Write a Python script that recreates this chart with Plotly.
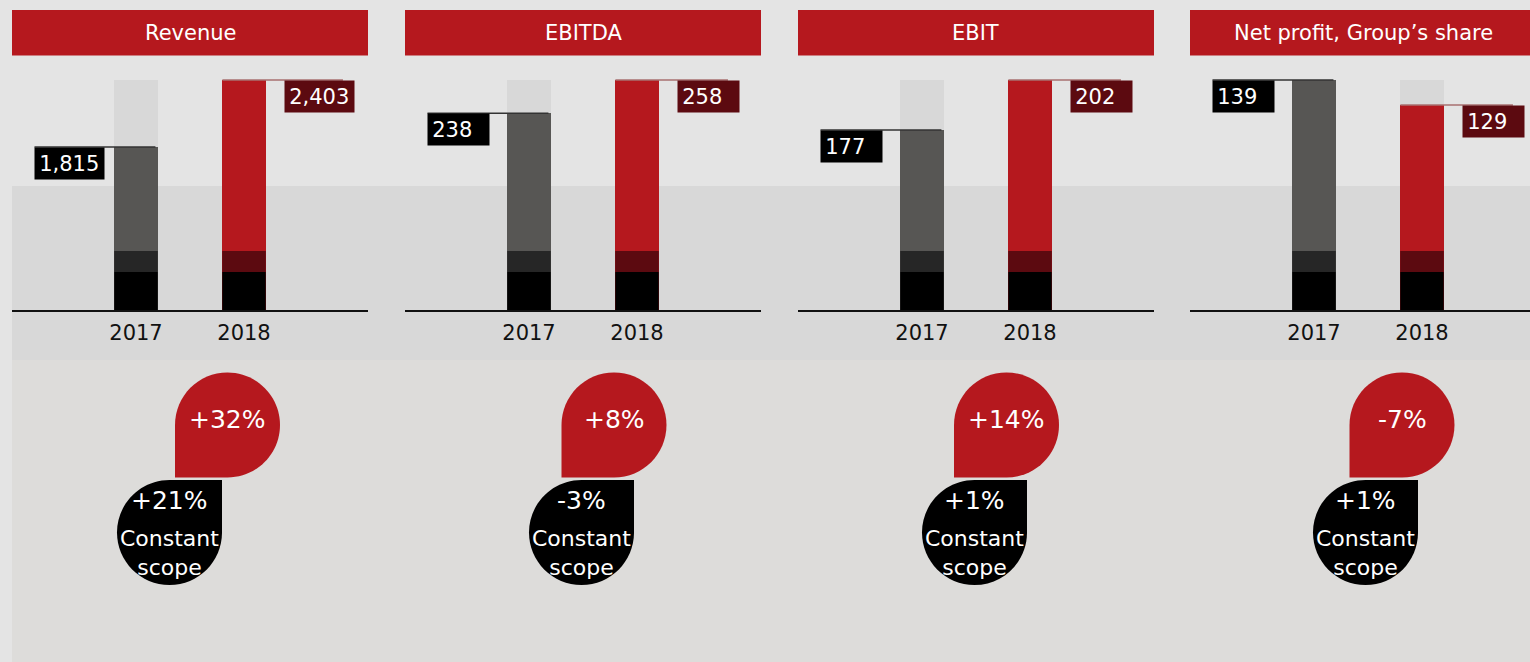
import plotly.graph_objects as go

# ---------------- data ----------------
metrics = ["Revenue", "EBITDA", "EBIT", "Net profit, Group\u2019s share"]
years = ["2017", "2018"]
values_2017 = [1815, 238, 177, 139]
values_2018 = [2403, 258, 202, 129]
growth_reported = ["+32%", "+8%", "+14%", "-7%"]
growth_constant = ["+21%", "-3%", "+1%", "+1%"]
constant_label = "Constant<br>scope"

# ---------------- layout constants ----------------
W, H = 1530, 662
FONT = "DejaVu Sans"
RED = "#b5181e"
DARKRED = "#5c0a10"
GREY_BAR = "#575654"
DARK_SEG = "#262626"
panel_left = [12, 405, 798, 1190]
panel_w = 356
unit = 108.0          # px between the two bars
c_off = 124.0         # px from panel left to first bar centre
bar_w = 0.403
y_bot, y_top = 310, 76
axis_floor = [384, 120, 87, 47]   # visual floor of each panel's value axis
red_cx = [227.5, 614, 1006.5, 1402]
blk_cx = [169.5, 581.5, 974.5, 1365.5]
red_cy, blk_cy, R = 425, 532.5, 52.5


def px(x):
    return x / W


def py(y):
    return 1 - y / H


fig = go.Figure()
shapes = []
annotations = []

# background areas
shapes.append(dict(type="rect", xref="paper", yref="paper", x0=px(12), x1=1,
                   y0=py(360), y1=py(186), fillcolor="#d8d8d8", line_width=0, layer="below"))
shapes.append(dict(type="rect", xref="paper", yref="paper", x0=px(12), x1=1,
                   y0=0, y1=py(360), fillcolor="#dddcda", line_width=0, layer="below"))

layout_axes = {}
for i, name in enumerate(metrics):
    n = i + 1
    xa = "x" if n == 1 else f"x{n}"
    ya = "y" if n == 1 else f"y{n}"
    L = panel_left[i]
    Rr = min(L + panel_w, W)
    v17, v18 = values_2017[i], values_2018[i]
    vmax = max(v17, v18)
    b = axis_floor[i]
    t = b + (vmax - b) * (y_bot - y_top) / (y_bot - 80)

    # header
    shapes.append(dict(type="rect", xref="paper", yref="paper", x0=px(L), x1=px(Rr),
                       y0=py(55.5), y1=py(10), fillcolor=RED, line_width=0))
    annotations.append(dict(xref="paper", yref="paper", x=px((L + min(L + panel_w, W + 6)) / 2),
                            y=py(33), text=name, showarrow=False,
                            font=dict(family=FONT, size=21, color="white"),
                            xanchor="center", yanchor="middle"))

    # background (max) bars
    fig.add_trace(go.Bar(x=[0, 1], y=[vmax, vmax], width=bar_w, marker_color="#d8d8d8",
                         marker_line_width=0, xaxis=xa, yaxis=ya, hoverinfo="skip",
                         showlegend=False))
    # value bars
    fig.add_trace(go.Bar(x=[0, 1], y=[v17, v18], width=bar_w,
                         marker_color=[GREY_BAR, RED], marker_line_width=0,
                         xaxis=xa, yaxis=ya, showlegend=False,
                         hovertemplate="%{y:,}<extra></extra>"))

    x0r = -c_off / unit
    x1r = (Rr - L - c_off) / unit
    layout_axes["xaxis" if n == 1 else f"xaxis{n}"] = dict(
        domain=[px(L), px(Rr)], range=[x0r, x1r], tickvals=[0, 1], ticktext=years,
        showgrid=False, zeroline=False, showline=True, linecolor="#111", linewidth=2,
        ticks="outside", ticklen=3, tickcolor="rgba(0,0,0,0)",
        tickfont=dict(family=FONT, size=21, color="#111"), fixedrange=True,
        anchor=ya)
    layout_axes["yaxis" if n == 1 else f"yaxis{n}"] = dict(
        domain=[py(y_bot), py(y_top)], range=[b, t], visible=False, showgrid=False,
        zeroline=False, fixedrange=True, anchor=xa)

    # bottom stacked segments (decorative)
    seg1 = (y_bot - 272) / (y_bot - y_top)
    seg2 = (y_bot - 251) / (y_bot - y_top)
    for xc, dark in ((0, DARK_SEG), (1, DARKRED)):
        shapes.append(dict(type="rect", xref=xa, yref=f"{ya} domain", x0=xc - bar_w / 2,
                           x1=xc + bar_w / 2, y0=0, y1=seg1, fillcolor="black", line_width=0))
        shapes.append(dict(type="rect", xref=xa, yref=f"{ya} domain", x0=xc - bar_w / 2,
                           x1=xc + bar_w / 2, y0=seg1, y1=seg2, fillcolor=dark, line_width=0))

    # value labels
    for xc, v, bg, lx, lcol in ((0, v17, "black", -0.94, "#333333"),
                                (1, v18, DARKRED, 1.37, "#a87070")):
        txt = f"{v:,}"
        wpx = 69 if len(txt) > 3 else 61
        annotations.append(dict(xref=xa, yref=ya, x=lx, y=v, text="\u2009" + txt,
                                showarrow=False, xanchor="left", yanchor="top",
                                width=wpx, height=31, align="left", valign="middle",
                                bgcolor=bg, borderpad=0,
                                font=dict(family=FONT, size=21, color="white")))
        if xc == 0:
            lx0, lx1 = lx, 0.18
        else:
            lx0, lx1 = 1 - 0.2, lx + (wpx - 10) / unit
        shapes.append(dict(type="line", xref=xa, yref=ya, x0=lx0, x1=lx1, y0=v, y1=v,
                           line=dict(color=lcol, width=1.5)))

    # growth bubbles
    k = 0.5523 * R
    cx, cy = red_cx[i], red_cy
    pts = [
        ("M", (cx, cy - R)),
        ("C", (cx + k, cy - R), (cx + R, cy - k), (cx + R, cy)),
        ("C", (cx + R, cy + k), (cx + k, cy + R), (cx, cy + R)),
        ("L", (cx - R, cy + R)),
        ("L", (cx - R, cy)),
        ("C", (cx - R, cy - k), (cx - k, cy - R), (cx, cy - R)),
    ]

    def to_path(p):
        s = ""
        for seg in p:
            s += seg[0] + " " + " ".join(f"{px(a):.5f},{py(c):.5f}" for a, c in seg[1:]) + " "
        return s + "Z"

    shapes.append(dict(type="path", xref="paper", yref="paper", path=to_path(pts),
                       fillcolor=RED, line_width=0))
    cx, cy = blk_cx[i], blk_cy
    pts = [
        ("M", (cx - R, cy)),
        ("C", (cx - R, cy - k), (cx - k, cy - R), (cx, cy - R)),
        ("L", (cx + R, cy - R)),
        ("L", (cx + R, cy)),
        ("C", (cx + R, cy + k), (cx + k, cy + R), (cx, cy + R)),
        ("C", (cx - k, cy + R), (cx - R, cy + k), (cx - R, cy)),
    ]
    shapes.append(dict(type="path", xref="paper", yref="paper", path=to_path(pts),
                       fillcolor="black", line_width=0))

    annotations.append(dict(xref="paper", yref="paper", x=px(red_cx[i]), y=py(419),
                            text=growth_reported[i], showarrow=False,
                            font=dict(family=FONT, size=25, color="white"),
                            xanchor="center", yanchor="middle"))
    annotations.append(dict(xref="paper", yref="paper", x=px(blk_cx[i]), y=py(500),
                            text=growth_constant[i], showarrow=False,
                            font=dict(family=FONT, size=25, color="white"),
                            xanchor="center", yanchor="middle"))
    annotations.append(dict(xref="paper", yref="paper", x=px(blk_cx[i]), y=py(553),
                            text=constant_label, showarrow=False,
                            font=dict(family=FONT, size=22, color="white"),
                            xanchor="center", yanchor="middle"))

fig.update_layout(
    width=W, height=H, margin=dict(l=0, r=0, t=0, b=0),
    paper_bgcolor="#e4e4e4", plot_bgcolor="rgba(0,0,0,0)",
    barmode="overlay", bargap=0, showlegend=False,
    shapes=shapes, annotations=annotations,
    font=dict(family=FONT), **layout_axes,
)

fig.write_html("out.html", config={"displayModeBar": False},
               post_script="document.body.style.margin='0';"
                           "document.body.style.overflow='hidden';")
